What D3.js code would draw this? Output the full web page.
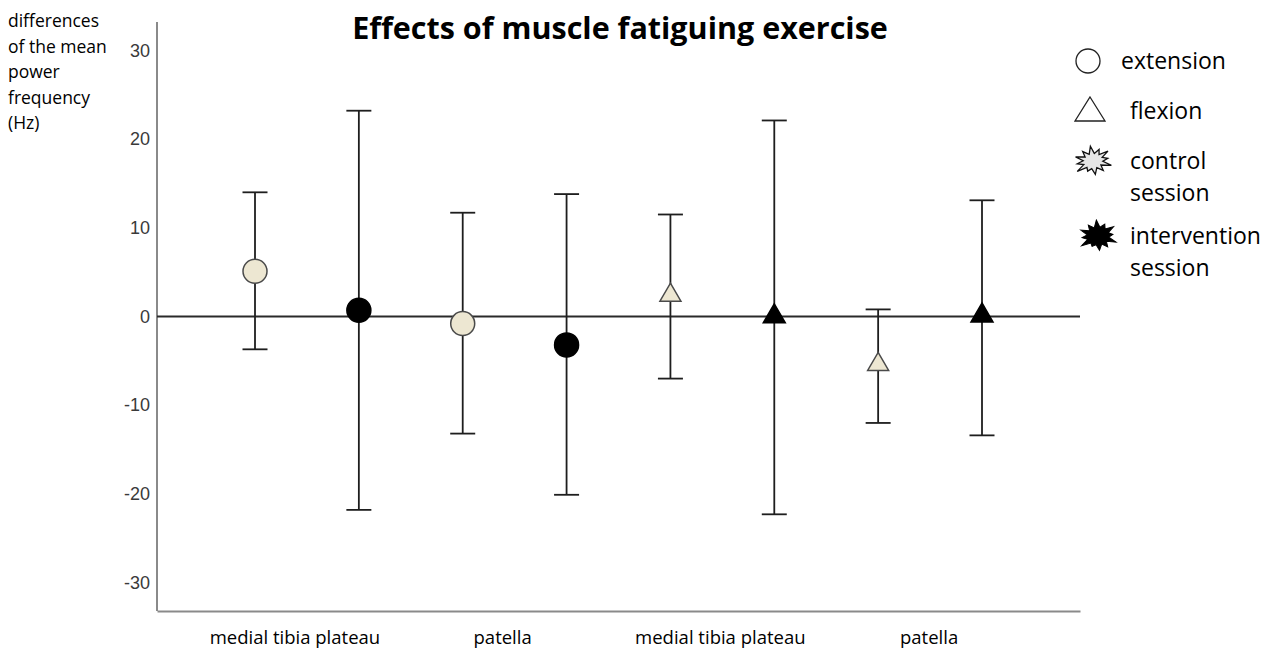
<!DOCTYPE html>
<html>
<head>
<meta charset="utf-8">
<script src="https://cdn.jsdelivr.net/npm/d3@7"></script>
<style>
  html, body { margin: 0; padding: 0; background: #fff; }
  svg { display: block; }
</style>
</head>
<body>
<svg id="chart" width="1280" height="650"></svg>
<script>
// ---------- data ----------
const sites = ["medial tibia plateau", "patella", "medial tibia plateau", "patella"];
const movements = ["extension", "extension", "extension", "extension", "flexion", "flexion", "flexion", "flexion"];
const sessions = ["control", "intervention", "control", "intervention", "control", "intervention", "control", "intervention"];
const means = [5.1, 0.7, -0.8, -3.2, 2.4, 0.0, -5.4, 0.1];
const upper = [14.0, 23.2, 11.7, 13.8, 11.5, 22.1, 0.8, 13.1];
const lower = [-3.7, -21.8, -13.2, -20.1, -7.0, -22.3, -12.0, -13.4];
const yTicks = [-30, -20, -10, 0, 10, 20, 30];
const yLabelLines = ["differences", "of the mean", "power", "frequency", "(Hz)"];
const legendItems = [
  { shape: "circle", lines: ["extension"] },
  { shape: "triangle", lines: ["flexion"] },
  { shape: "starLight", lines: ["control", "session"] },
  { shape: "starDark", lines: ["intervention", "session"] }
];
const titleText = "Effects of muscle fatiguing exercise";

// ---------- setup ----------
const svg = d3.select("#chart");
const sansUI = "'Open Sans', 'DejaVu Sans', sans-serif";
const sansNum = "'Liberation Sans', Arial, sans-serif";

const plot = { left: 157, right: 1080, top: 22, bottom: 611 };
const x = d3.scalePoint().domain(d3.range(means.length)).range([255, 982]);
const y = d3.scaleLinear().domain([-33.2, 33.2]).range([plot.bottom, plot.top]);

const controlFill = "#ede7d2";
const markStroke = "#4a4a4a";

// title
svg.append("text")
  .attr("x", 620).attr("y", 39)
  .attr("text-anchor", "middle")
  .attr("font-family", sansUI)
  .attr("font-weight", "bold")
  .attr("font-size", 30.5)
  .attr("fill", "#000")
  .text(titleText);

// y axis label (multi-line)
const yl = svg.append("text")
  .attr("font-family", sansUI)
  .attr("font-size", 17.5)
  .attr("fill", "#000");
yLabelLines.forEach((t, i) => {
  yl.append("tspan").attr("x", 8).attr("y", 27 + i * 25.5).text(t);
});

// y axis (no tick marks, grey line)
const yAxis = d3.axisLeft(y).tickValues(yTicks).tickSize(0).tickPadding(7).tickFormat(d => String(d));
const yG = svg.append("g").attr("transform", `translate(${plot.left},0)`).call(yAxis);
yG.select(".domain").attr("stroke", "#8a8a8a").attr("stroke-width", 2)
  .attr("d", `M0,${plot.top}V${plot.bottom}`);
yG.selectAll(".tick text")
  .attr("font-family", sansNum).attr("font-size", 18).attr("fill", "#3a3a3a");

// x axis baseline (grey)
const xAxisScale = d3.scaleLinear().domain([0, 1]).range([plot.left, plot.right]);
const xG = svg.append("g").attr("transform", `translate(0,${plot.bottom})`)
  .call(d3.axisBottom(xAxisScale).tickValues([]).tickSizeOuter(0));
xG.select(".domain").attr("stroke", "#8a8a8a").attr("stroke-width", 2);

// category labels centered under each pair
const labelShift = [-12, -12, -2, -1];
sites.forEach((s, i) => {
  const cx = (x(2 * i) + x(2 * i + 1)) / 2 + labelShift[i];
  svg.append("text")
    .attr("x", cx).attr("y", 644)
    .attr("text-anchor", "middle")
    .attr("font-family", sansUI).attr("font-size", 18.5).attr("fill", "#000")
    .text(s);
});

// zero reference line
svg.append("line")
  .attr("x1", plot.left).attr("x2", plot.right)
  .attr("y1", y(0)).attr("y2", y(0))
  .attr("stroke", "#2a2a2a").attr("stroke-width", 2);

// error bars
const capHalf = 12.5;
const g = svg.append("g");
means.forEach((m, i) => {
  const cx = x(i);
  g.append("line").attr("x1", cx).attr("x2", cx).attr("y1", y(upper[i])).attr("y2", y(lower[i]))
    .attr("stroke", "#1e1e1e").attr("stroke-width", 1.8);
  [upper[i], lower[i]].forEach(v => {
    g.append("line").attr("x1", cx - capHalf).attr("x2", cx + capHalf).attr("y1", y(v)).attr("y2", y(v))
      .attr("stroke", "#1e1e1e").attr("stroke-width", 1.8);
  });
});

// markers
function triPath(w, h) {
  return `M0,${-h * 2 / 3}L${w / 2},${h / 3}L${-w / 2},${h / 3}Z`;
}
means.forEach((m, i) => {
  const cx = x(i), cy = y(m);
  const isCtrl = sessions[i] === "control";
  const fill = isCtrl ? controlFill : "#000";
  const stroke = isCtrl ? markStroke : "#000";
  if (movements[i] === "extension") {
    g.append("circle").attr("cx", cx).attr("cy", cy).attr("r", 12)
      .attr("fill", fill).attr("stroke", stroke).attr("stroke-width", 1.5);
  } else {
    g.append("path").attr("transform", `translate(${cx},${cy})`)
      .attr("d", triPath(isCtrl ? 21 : 22, isCtrl ? 18 : 19))
      .attr("fill", fill).attr("stroke", stroke).attr("stroke-width", 1.5)
      .attr("stroke-linejoin", "miter");
  }
});

// ---------- legend ----------
function burstPath(rx, ry, innerFrac, n, jitter) {
  const pts = [];
  for (let k = 0; k < n * 2; k++) {
    const a = (k / (n * 2)) * Math.PI * 2 - Math.PI / 2;
    const f = k % 2 === 0 ? jitter[(k / 2) % jitter.length] : innerFrac;
    pts.push([Math.cos(a) * rx * f, Math.sin(a) * ry * f]);
  }
  return "M" + pts.map(p => p[0].toFixed(2) + "," + p[1].toFixed(2)).join("L") + "Z";
}
const burstJitter = [1.0, 0.8, 0.95, 0.75, 1.0, 0.85, 0.9, 0.7, 1.0, 0.8, 0.95, 0.85];
const lg = svg.append("g");
const legendRows = [61, 111, 161, 236];
legendItems.forEach((it, i) => {
  const cy = legendRows[i];
  if (it.shape === "circle") {
    lg.append("circle").attr("cx", 1088).attr("cy", cy).attr("r", 12)
      .attr("fill", "none").attr("stroke", "#222").attr("stroke-width", 1.3);
  } else if (it.shape === "triangle") {
    lg.append("path").attr("transform", `translate(1090,${cy + 2})`)
      .attr("d", triPath(30, 24))
      .attr("fill", "none").attr("stroke", "#222").attr("stroke-width", 1.3);
  } else if (it.shape === "starLight") {
    lg.append("path").attr("transform", `translate(1093,${cy}) rotate(-10)`)
      .attr("d", burstPath(20, 15, 0.5, 12, burstJitter))
      .attr("fill", "#e6e6e6").attr("stroke", "#111").attr("stroke-width", 1.3);
  } else {
    lg.append("path").attr("transform", `translate(1098,${cy}) rotate(-6)`)
      .attr("d", burstPath(20, 16, 0.55, 12, burstJitter))
      .attr("fill", "#000").attr("stroke", "#000").attr("stroke-width", 1);
  }
  const tx = it.shape === "circle" ? 1121 : 1130;
  const t = lg.append("text").attr("font-family", sansUI).attr("font-size", 23).attr("fill", "#000");
  it.lines.forEach((ln, j) => {
    t.append("tspan").attr("x", tx).attr("y", cy + 8 + j * 32).text(ln);
  });
});
</script>
</body>
</html>
